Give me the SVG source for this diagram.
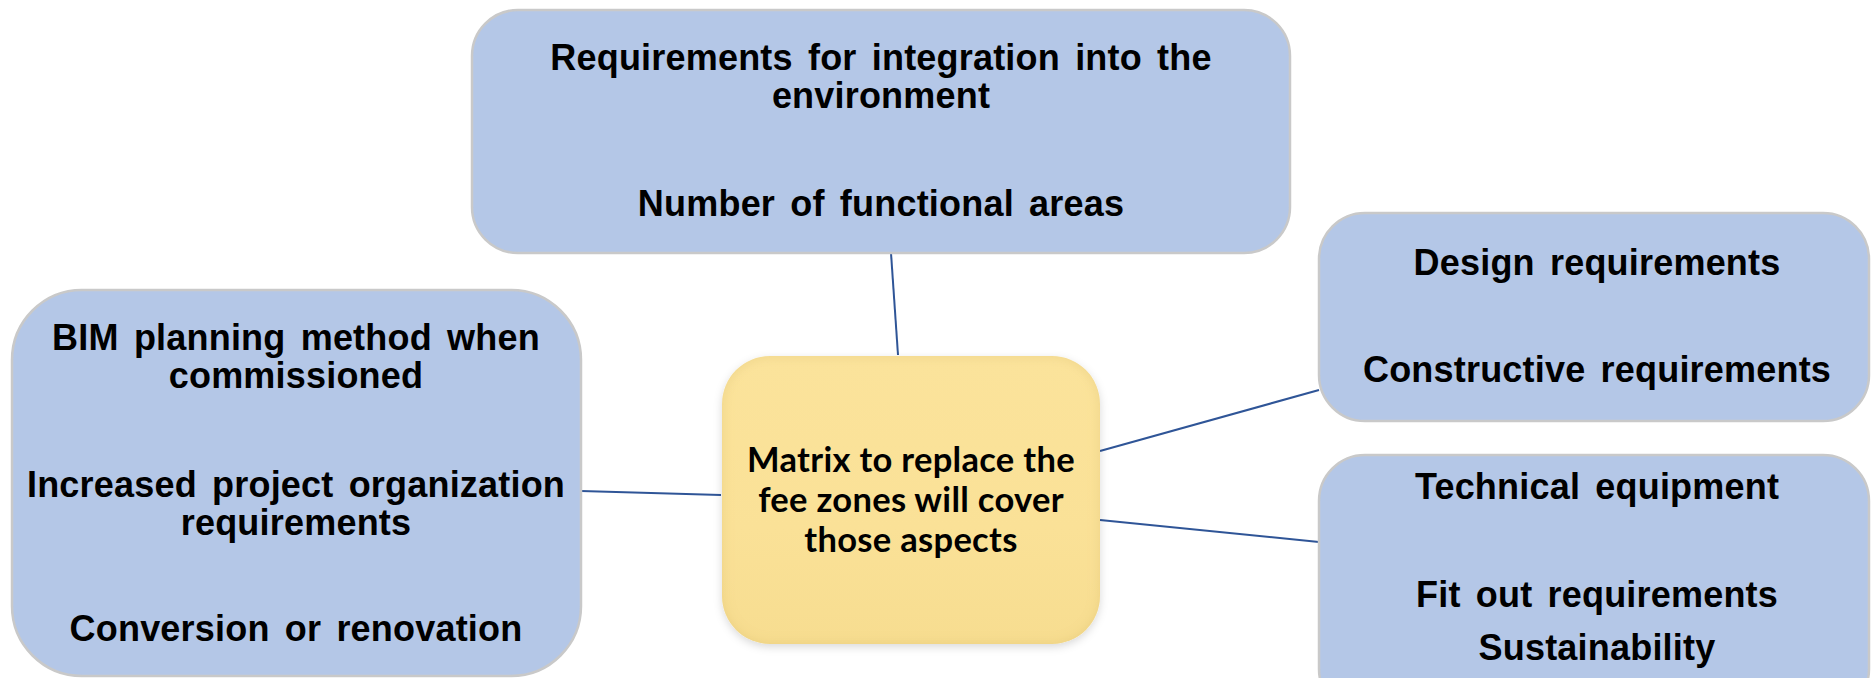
<svg xmlns="http://www.w3.org/2000/svg" width="1872" height="678" viewBox="0 0 1872 678">
  <style>
    .box { fill: #B4C7E7; stroke: #C9C9C9; stroke-width: 2.5; }
    .lbl { font-family: "Liberation Sans", Arial, sans-serif; font-weight: bold; font-size: 36px; word-spacing: 5px; letter-spacing: 0.2px; fill: #000; text-anchor: middle; }
    .core { font-family: Lato, "Open Sans", sans-serif; font-weight: bold; font-size: 34.5px; letter-spacing: 0.3px; fill: #000; text-anchor: middle; }
    .link { stroke: #2F5597; stroke-width: 2; fill: none; }
  </style>
  <defs>
    <linearGradient id="coreFill" x1="0" y1="0" x2="0" y2="1">
      <stop offset="0" stop-color="#FBE39B"/>
      <stop offset="0.6" stop-color="#FAE197"/>
      <stop offset="1" stop-color="#F7DD90"/>
    </linearGradient>
    <filter id="bevel" x="-10%" y="-10%" width="120%" height="120%">
      <feGaussianBlur in="SourceAlpha" stdDeviation="6" result="blur"/>
      <feComposite in="SourceAlpha" in2="blur" operator="out" result="rim"/>
      <feFlood flood-color="#C9A94A" flood-opacity="0.3"/>
      <feComposite in2="rim" operator="in" result="rimColor"/>
      <feGaussianBlur in="SourceAlpha" stdDeviation="4" result="sh"/>
      <feOffset in="sh" dx="0" dy="3" result="shOff"/>
      <feFlood flood-color="#000" flood-opacity="0.15"/>
      <feComposite in2="shOff" operator="in" result="shadow"/>
      <feMerge>
        <feMergeNode in="shadow"/>
        <feMergeNode in="SourceGraphic"/>
        <feMergeNode in="rimColor"/>
      </feMerge>
    </filter>
  </defs>

  <!-- connectors from the central node to each group -->
  <g id="connectors">
    <line class="link" x1="891" y1="253" x2="898" y2="355"/>
    <line class="link" x1="581" y1="491" x2="721" y2="495"/>
    <line class="link" x1="1100" y1="451" x2="1319" y2="390"/>
    <line class="link" x1="1100" y1="520" x2="1319" y2="542"/>
  </g>

  <g id="node-top">
    <rect class="box" x="472" y="10" width="818" height="243" rx="46"/>
    <text class="lbl" x="881" y="70">Requirements for integration into the</text>
    <text class="lbl" x="881" y="108">environment</text>
    <text class="lbl" x="881" y="216">Number of functional areas</text>
  </g>

  <g id="node-left">
    <rect class="box" x="12" y="290" width="569" height="386" rx="70"/>
    <text class="lbl" x="296" y="350">BIM planning method when</text>
    <text class="lbl" x="296" y="388">commissioned</text>
    <text class="lbl" x="296" y="497">Increased project organization</text>
    <text class="lbl" x="296" y="535">requirements</text>
    <text class="lbl" x="296" y="641">Conversion or renovation</text>
  </g>

  <g id="node-center">
    <rect x="722" y="356" width="378" height="288" rx="48" fill="url(#coreFill)" filter="url(#bevel)"/>
    <text class="core" x="911" y="472">Matrix to replace the</text>
    <text class="core" x="911" y="512">fee zones will cover</text>
    <text class="core" x="911" y="552">those aspects</text>
  </g>

  <g id="node-right-top">
    <rect class="box" x="1319" y="213" width="550" height="208" rx="46"/>
    <text class="lbl" x="1597" y="275">Design requirements</text>
    <text class="lbl" x="1597" y="382">Constructive requirements</text>
  </g>

  <g id="node-right-bottom">
    <rect class="box" x="1319" y="455" width="550" height="260" rx="46"/>
    <text class="lbl" x="1597" y="499">Technical equipment</text>
    <text class="lbl" x="1597" y="607">Fit out requirements</text>
    <text class="lbl" x="1597" y="660">Sustainability</text>
  </g>
</svg>
